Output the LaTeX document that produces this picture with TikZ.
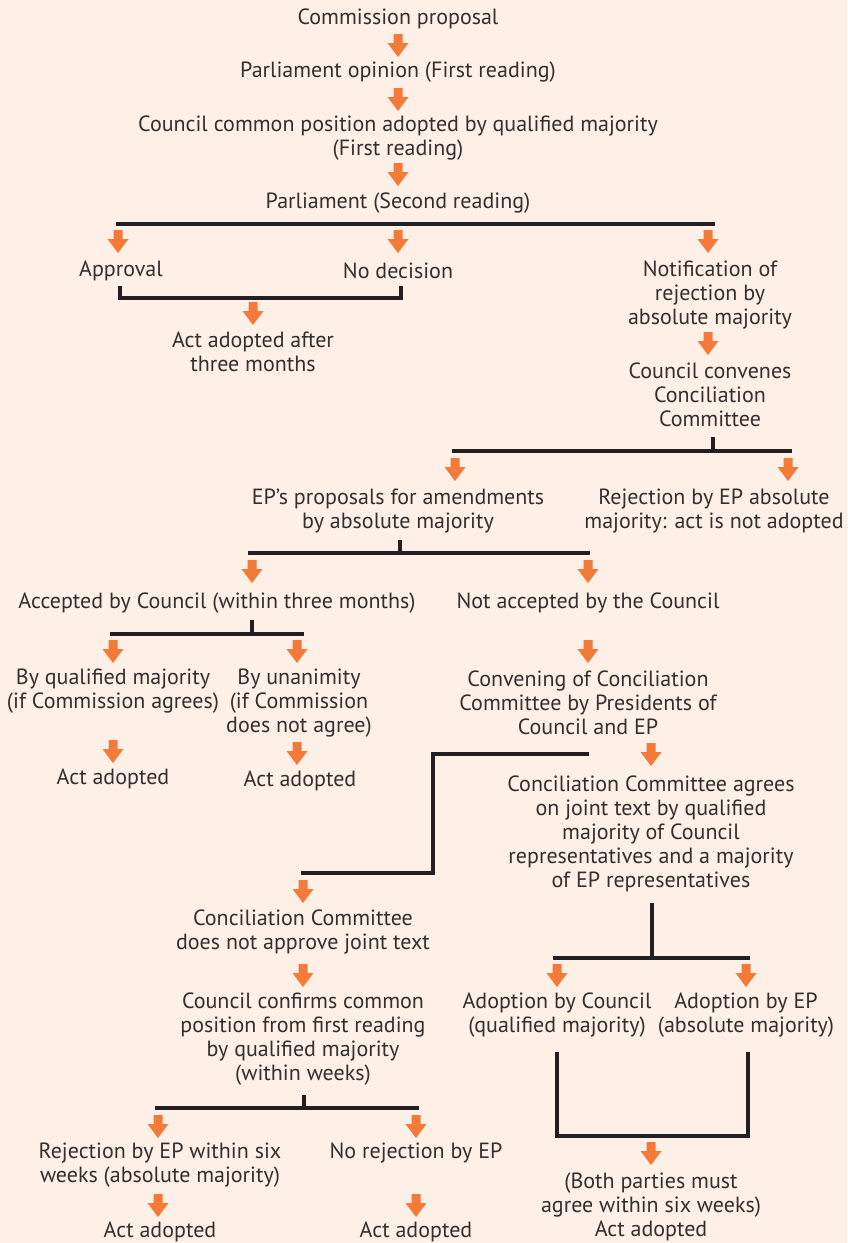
\documentclass[tikz,border=0pt]{standalone}
\usepackage{fontspec}
\setmainfont{PT Sans}
\definecolor{bgc}{HTML}{FEF0E7}
\definecolor{arrc}{HTML}{F37A38}
\definecolor{linec}{HTML}{231F20}
\definecolor{textc}{HTML}{332F2F}
\tikzset{
  txt/.style={align=center, inner sep=0pt, text=textc, yshift=-2pt, font=\fontsize{22}{24}\selectfont},
  bar/.style={draw=linec, line width=4pt, line cap=butt, line join=miter},
  oarrow/.pic={\fill[arrc] (-4.5,0) -- (4.5,0) -- (4.5,9) -- (10.5,9) -- (0,23) -- (-10.5,9) -- (-4.5,9) -- cycle;}
}
\begin{document}
\begin{tikzpicture}[x=1pt,y=-1pt]
\fill[bgc] (0,0) rectangle (847,1243);
\useasboundingbox (0,0) rectangle (847,1243);

% text nodes
\node[txt] (n1) at (398,17) {Commission proposal};
\node[txt] (n2) at (398,70) {Parliament opinion (First reading)};
\node[txt] (n3) at (398,136) {Council common position adopted by qualified majority\\(First reading)};
\node[txt] (n4) at (398,201) {Parliament (Second reading)};
\node[txt] (n5) at (121,269) {Approval};
\node[txt] (n6) at (398,269) {No decision};
\node[txt] (n7) at (710,293) {Notification of\\rejection by\\absolute majority};
\node[txt] (n8) at (253,350) {Act adopted after\\three months};
\node[txt] (n9) at (710,393) {Council convenes\\Conciliation\\Committee};
\node[txt] (n10) at (398,509) {EP’s proposals for amendments\\by absolute majority};
\node[txt] (n11) at (714,509) {Rejection by EP absolute\\majority: act is not adopted};
\node[txt] (n12) at (217,601) {Accepted by Council (within three months)};
\node[txt] (n13) at (588,601) {Not accepted by the Council};
\node[txt] (n14) at (113,689) {By qualified majority\\(if Commission agrees)};
\node[txt] (n15) at (299,701) {By unanimity\\(if Commission\\does not agree)};
\node[txt] (n16) at (588,701) {Convening of Conciliation\\Committee by Presidents of\\Council and EP};
\node[txt] (n17) at (113,777) {Act adopted};
\node[txt] (n18) at (300,779) {Act adopted};
\node[txt] (n19) at (651,832) {Conciliation Committee agrees\\on joint text by qualified\\majority of Council\\representatives and a majority\\of EP representatives};
\node[txt] (n20) at (303,930) {Conciliation Committee\\does not approve joint text};
\node[txt] (n21) at (303,1037) {Council confirms common\\position from first reading\\by qualified majority\\(within weeks)};
\node[txt] (n22) at (557,1013) {Adoption by Council\\(qualified majority)};
\node[txt] (n23) at (746,1013) {Adoption by EP\\(absolute majority)};
\node[txt] (n24) at (160,1163) {Rejection by EP within six\\weeks (absolute majority)};
\node[txt] (n25) at (416,1151) {No rejection by EP};
\node[txt] (n26) at (160,1230) {Act adopted};
\node[txt] (n27) at (416,1230) {Act adopted};
\node[txt] (n28) at (651,1205) {(Both parties must\\agree within six weeks)\\Act adopted};

% black connector lines
\draw[bar] (116,224) -- (715,224);
\draw[bar] (120,286) -- (120,298) -- (401,298) -- (401,286);
\draw[bar] (713,437) -- (713,451);
\draw[bar] (452,451) -- (792,451);
\draw[bar] (400,540) -- (400,553);
\draw[bar] (248,553) -- (590,553);
\draw[bar] (252,620) -- (252,634);
\draw[bar] (110,634) -- (304,634);
\draw[bar] (589,754) -- (433,754) -- (433,873) -- (301,873);
\draw[bar] (652,903) -- (652,958);
\draw[bar] (553,958) -- (750,958);
\draw[bar] (557,1052) -- (557,1136) -- (748,1136) -- (748,1052);
\draw[bar] (304,1095) -- (304,1108);
\draw[bar] (155,1108) -- (419,1108);

% orange arrows
\foreach \x/\y in {398/34, 398/88, 398/163,
  118/230, 398/230, 708/230,
  253/302, 708/332,
  455/458, 788/458,
  252/560, 588/560,
  113/640, 297/640, 588/640,
  113/740, 297/742, 651/743,
  303/880, 303/964, 557/964, 746/964,
  651/1142, 158/1115, 416/1115, 158/1194, 416/1194}
  \pic at (\x,\y) {oarrow};
\end{tikzpicture}
\end{document}
